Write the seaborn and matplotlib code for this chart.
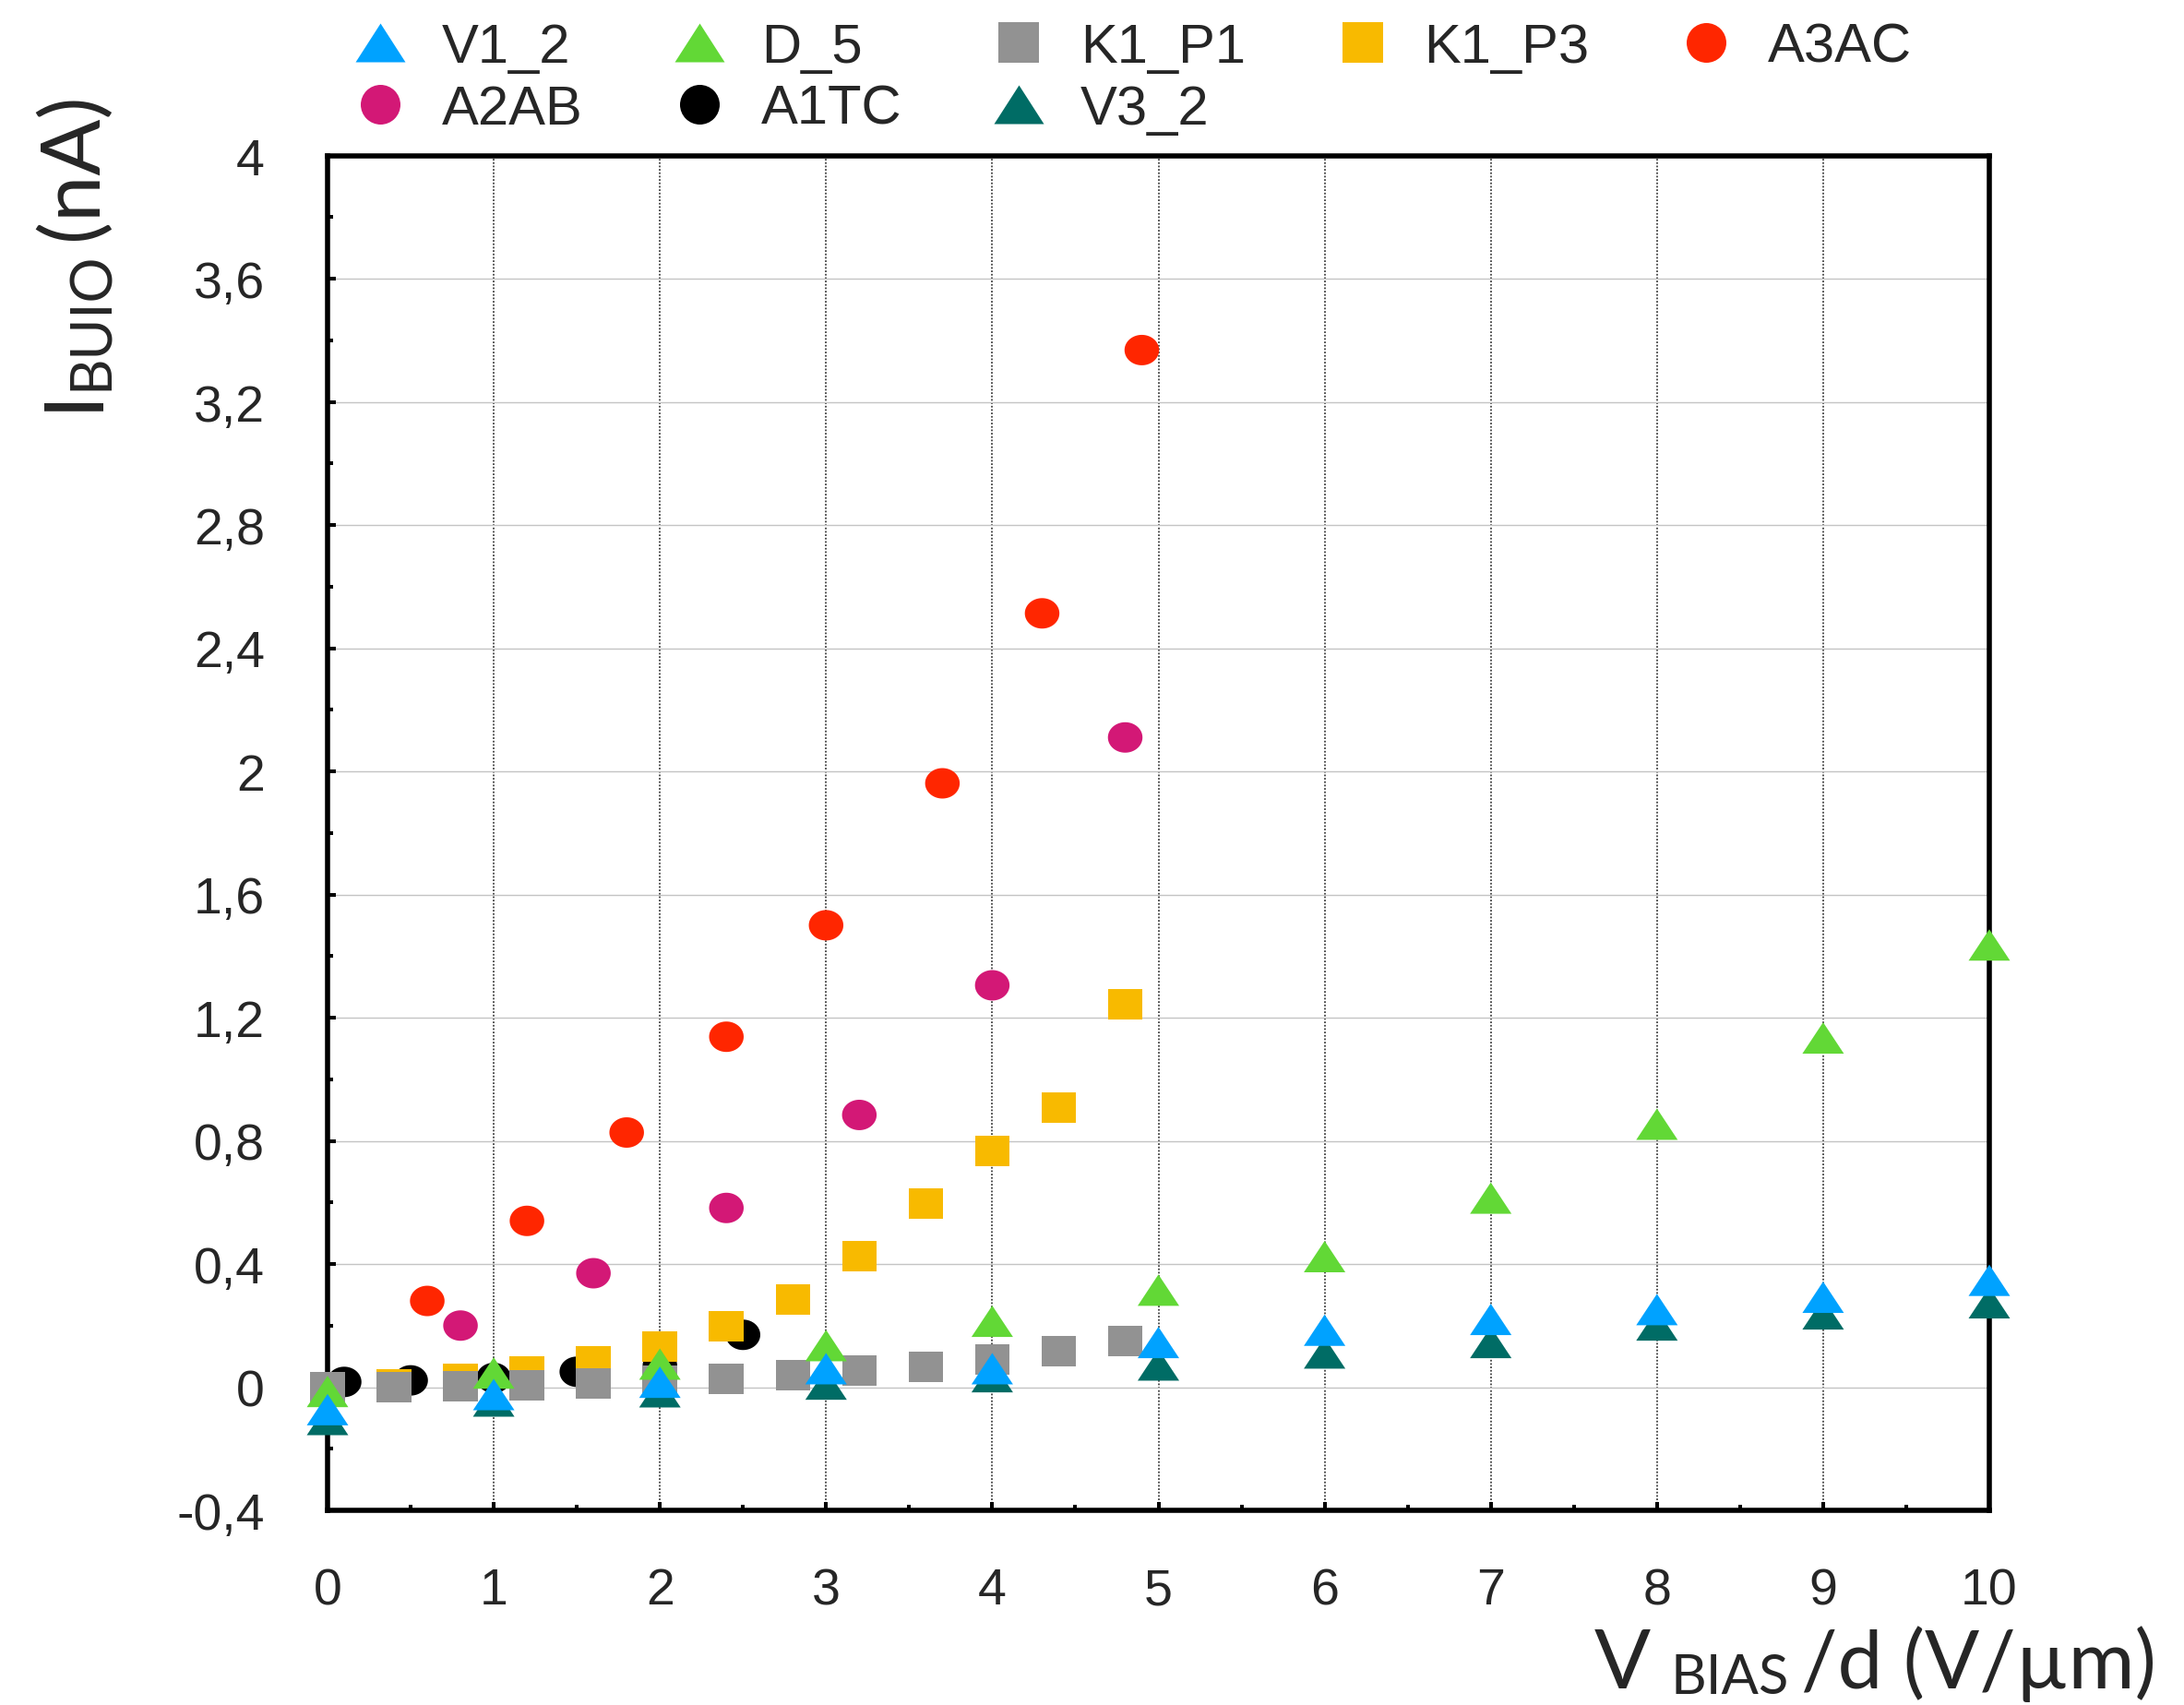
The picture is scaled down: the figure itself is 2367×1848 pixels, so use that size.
import numpy as np
import pandas as pd
import matplotlib
matplotlib.use("Agg")
import matplotlib.pyplot as plt
import seaborn as sns
from matplotlib.lines import Line2D
from matplotlib.ticker import MultipleLocator, FixedLocator, FixedFormatter

# ---------------- data ----------------
v1_2_x = [0, 1, 2, 3, 4, 5, 6, 7, 8, 9, 10]
v1_2_y = [-0.073, -0.024, 0.016, 0.060, 0.060, 0.145, 0.185, 0.220, 0.252, 0.292, 0.347]

d_5_x = [0, 1, 2, 3, 4, 5, 6, 7, 8, 9, 10]
d_5_y = [-0.014, 0.046, 0.075, 0.135, 0.214, 0.315, 0.424, 0.614, 0.854, 1.134, 1.436]

v3_2_x = [0, 1, 2, 3, 4, 5, 6, 7, 8, 9, 10]
v3_2_y = [-0.105, -0.045, -0.015, 0.010, 0.034, 0.072, 0.111, 0.145, 0.202, 0.238, 0.274]

k1_p1_x = [0, 0.4, 0.8, 1.2, 1.6, 2.0, 2.4, 2.8, 3.2, 3.6, 4.0, 4.4, 4.8]
k1_p1_y = [0.000, 0.001, 0.004, 0.006, 0.012, 0.020, 0.028, 0.039, 0.054, 0.067, 0.089, 0.116, 0.151]

k1_p3_x = [0.4, 0.8, 1.2, 1.6, 2.0, 2.4, 2.8, 3.2, 3.6, 4.0, 4.4, 4.8]
k1_p3_y = [0.010, 0.027, 0.050, 0.083, 0.131, 0.198, 0.286, 0.425, 0.595, 0.768, 0.908, 1.242]

a3ac_x = [0.6, 1.2, 1.8, 2.4, 3.0, 3.7, 4.3, 4.9]
a3ac_y = [0.28, 0.54, 0.827, 1.138, 1.50, 1.961, 2.513, 3.368]

a2ab_x = [0.8, 1.6, 2.4, 3.2, 4.0, 4.8]
a2ab_y = [0.20, 0.37, 0.582, 0.884, 1.305, 2.11]

a1tc_x = [0.1, 0.5, 1.0, 1.5, 2.0, 2.5]
a1tc_y = [0.017, 0.022, 0.030, 0.050, 0.070, 0.170]

series_names = ["V1_2", "D_5", "K1_P1", "K1_P3", "A3AC", "A2AB", "A1TC", "V3_2"]
colors = {
    "V1_2": "#00A2FF",
    "D_5": "#62D836",
    "K1_P1": "#929292",
    "K1_P3": "#F8BA00",
    "A3AC": "#FF2600",
    "A2AB": "#D31876",
    "A1TC": "#000000",
    "V3_2": "#006C65",
}

y_ticks = [-0.4, 0, 0.4, 0.8, 1.2, 1.6, 2.0, 2.4, 2.8, 3.2, 3.6, 4.0]
y_tick_labels = ["-0,4", "0", "0,4", "0,8", "1,2", "1,6", "2", "2,4", "2,8", "3,2", "3,6", "4"]
x_ticks = [0, 1, 2, 3, 4, 5, 6, 7, 8, 9, 10]
x_tick_labels = ["0", "1", "2", "3", "4", "5", "6", "7", "8", "9", "10"]

# ---------------- style ----------------
sns.set_style("ticks")
plt.rcParams["font.family"] = ["Liberation Sans", "DejaVu Sans"]

W, H = 2367, 1849
DPI = 100
fig = plt.figure(figsize=(W / DPI, H / DPI), dpi=DPI)
ax = fig.add_axes([355 / W, 1 - 1638 / H, (2156 - 355) / W, (1638 - 169.5) / H])

PX = 72.0 / DPI  # points per pixel

# marker shapes (plot is slightly stretched horizontally)
tri_plot = [(-22.5, -17), (22.5, -17), (0, 17)]
th = np.linspace(0, 2 * np.pi, 60)
ell_plot = list(zip(18.75 * np.cos(th), 16.5 * np.sin(th)))
rect_plot = [(-18.75, -16.5), (18.75, -16.5), (18.75, 16.5), (-18.75, 16.5)]

tri_s = (45 * PX) ** 2
box_s = (37.5 * PX) ** 2

plot_specs = [
    ("A1TC", a1tc_x, a1tc_y, ell_plot, box_s, 3.0),
    ("A3AC", a3ac_x, a3ac_y, ell_plot, box_s, 3.1),
    ("A2AB", a2ab_x, a2ab_y, ell_plot, box_s, 3.2),
    ("K1_P3", k1_p3_x, k1_p3_y, rect_plot, box_s, 3.3),
    ("K1_P1", k1_p1_x, k1_p1_y, rect_plot, box_s, 3.4),
    ("V3_2", v3_2_x, v3_2_y, tri_plot, tri_s, 3.5),
    ("D_5", d_5_x, d_5_y, tri_plot, tri_s, 3.6),
    ("V1_2", v1_2_x, v1_2_y, tri_plot, tri_s, 3.7),
]

for name, xs, ys, mk, s, z in plot_specs:
    df = pd.DataFrame({"x": xs, "y": ys})
    sns.scatterplot(data=df, x="x", y="y", ax=ax, marker=mk, s=s,
                    color=colors[name], edgecolor="none", linewidth=0,
                    zorder=z, clip_on=False, legend=False)

ax.set_xlim(0, 10)
ax.set_ylim(-0.4, 4)
ax.xaxis.set_major_locator(FixedLocator(x_ticks))
ax.xaxis.set_major_formatter(FixedFormatter(x_tick_labels))
ax.xaxis.set_minor_locator(MultipleLocator(0.5))
ax.yaxis.set_major_locator(FixedLocator(y_ticks))
ax.yaxis.set_major_formatter(FixedFormatter(y_tick_labels))
ax.yaxis.set_minor_locator(MultipleLocator(0.2))
ax.set_xlabel("")
ax.set_ylabel("")

ax.set_axisbelow(True)
ax.grid(axis="y", which="major", color="#c4c4c4", linewidth=1.0, linestyle="-")
ax.grid(axis="x", which="major", color="#222222", linewidth=1.1, linestyle=(0, (1.2, 1.2)))

for sp in ax.spines.values():
    sp.set_linewidth(4.0)
    sp.set_color("black")
    sp.set_visible(True)

ax.tick_params(axis="both", which="major", direction="in", length=6.8, width=2.9,
               color="black", labelsize=40, top=False, right=False)
ax.tick_params(axis="both", which="minor", direction="in", length=4.3, width=2.9,
               color="black", top=False, right=False)
ax.tick_params(axis="x", which="major", pad=44)
ax.tick_params(axis="y", which="major", pad=49)

# ---------------- axis labels (pieced text) ----------------
lab_font = ["Lato", "DejaVu Sans"]
fig.text(105 / W, 1 - 445 / H, "I", rotation=90, rotation_mode="anchor",
         ha="left", va="baseline", fontsize=65, family=lab_font)
fig.text(117 / W, 1 - 423 / H, "BUIO", rotation=90, rotation_mode="anchor",
         ha="left", va="baseline", fontsize=44, family=lab_font)
fig.text(105 / W, 1 - 260 / H, "(nA)", rotation=90, rotation_mode="anchor",
         ha="left", va="baseline", fontsize=65, family=lab_font)

fig.text(1728 / W, 1 - 1830 / H, "V", ha="left", va="baseline", fontsize=65, family=lab_font)
fig.text(1810 / W, 1 - 1836 / H, "BIAS", ha="left", va="baseline", fontsize=43, family=lab_font)
fig.text(1952 / W, 1 - 1830 / H, "/d (V/\u00b5m)", ha="left", va="baseline", fontsize=63, family=lab_font)

# ---------------- legend ----------------
tri_leg = [(-27, -21), (27, -21), (0, 21)]
leg_marker = {
    "V1_2": (tri_leg, 54 * PX), "D_5": (tri_leg, 54 * PX), "V3_2": (tri_leg, 54 * PX),
    "K1_P1": ("s", 44 * PX), "K1_P3": ("s", 44 * PX),
    "A3AC": ("o", 43 * PX), "A2AB": ("o", 43 * PX), "A1TC": ("o", 43 * PX),
}
order = ["V1_2", "A2AB", "D_5", "A1TC", "K1_P1", "V3_2", "K1_P3", "A3AC"]
handles = []
for n in order:
    mk, ms = leg_marker[n]
    handles.append(Line2D([], [], linestyle="none", marker=mk, markersize=ms,
                          markerfacecolor=colors[n], markeredgewidth=0))
fig.legend(handles, order, ncol=5, loc="upper left",
           bbox_to_anchor=(382 / W, 1 - 25 / H), frameon=False,
           fontsize=43, borderpad=0, borderaxespad=0, handlelength=1.0,
           handletextpad=0.62, columnspacing=1.62, labelspacing=0.2)

fig.savefig("out.png", dpi=DPI)
